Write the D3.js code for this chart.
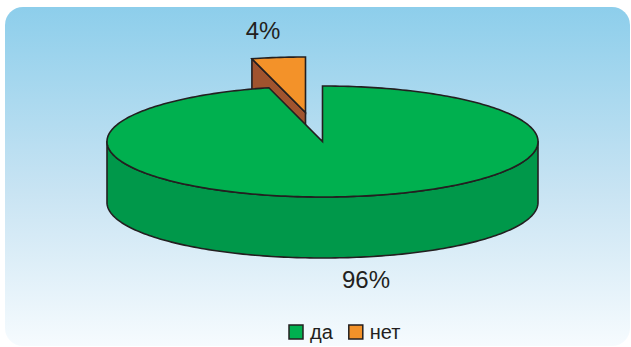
<!DOCTYPE html>
<html><head><meta charset="utf-8">
<script src="https://cdn.jsdelivr.net/npm/d3@7"></script>
<style>html,body{margin:0;padding:0;background:#fff;overflow:hidden}</style>
</head><body>
<svg id="c" width="631" height="347"></svg>
<script>
const categories = ["да", "нет"];
const values = [96, 4];
const labels = ["96%", "4%"];
const topColors = ["#00b04f", "#f39229"];
const sideColors = ["#00984a", "#a0532e"];

const W = 631, H = 347;
const svg = d3.select("#c");
const defs = svg.append("defs");
const grad = defs.append("linearGradient").attr("id","bg").attr("x1",0).attr("y1",0).attr("x2",0).attr("y2",1);
grad.append("stop").attr("offset","0%").attr("stop-color","#8dceeb");
grad.append("stop").attr("offset","55%").attr("stop-color","#c9e4f3");
grad.append("stop").attr("offset","100%").attr("stop-color","#f6fbfe");
svg.append("rect").attr("x",5).attr("y",7).attr("width",625).attr("height",339).attr("rx",18).attr("fill","url(#bg)");

const cx = 322.5, cy = 141.5, rx = 215.5, ry = 55.5, depth = 61;
const explode = [0, 1];
const exOff = {dx: -17, dy: -29};
const stroke = "#231f20", sw = 1.6;

const pie = d3.pie().sort(null).startAngle(0).endAngle(2*Math.PI);
const arcs = pie(values);
// projection of polar angle (clockwise from 12 o'clock) onto the tilted ellipse
const sx = d3.scaleLinear().domain([-1,1]).range([cx-rx, cx+rx]);
const sy = d3.scaleLinear().domain([-1,1]).range([cy-ry, cy+ry]);
const P = (a, ox, oy, dz) => [sx(Math.sin(a)) + ox, sy(-Math.cos(a)) + oy + dz];
const line = d3.line();

function arcPts(a0, a1, ox, oy, dz) {
  const n = Math.max(2, Math.ceil(Math.abs(a1-a0)/0.02));
  return d3.range(n+1).map(i => P(a0 + (a1-a0)*i/n, ox, oy, dz));
}

const gBack = svg.append("g"), gFront = svg.append("g");
// draw exploded slices first (behind), then main
const order = arcs.map((d,i)=>i).sort((a,b)=>explode[b]-explode[a]);
order.forEach(i => {
  const d = arcs[i];
  const ox = explode[i] ? exOff.dx : 0, oy = explode[i] ? exOff.dy : 0;
  const c = [cx+ox, cy+oy];
  const g = svg.append("g");
  // side wall (front visible half: angles between PI/2 and 3PI/2)
  const w0 = Math.max(d.startAngle, Math.PI/2), w1 = Math.min(d.endAngle, 3*Math.PI/2);
  if (w1 > w0) {
    const pts = arcPts(w0, w1, ox, oy, 0).concat(arcPts(w1, w0, ox, oy, depth));
    g.append("path").attr("d", line(pts)+"Z").attr("fill", sideColors[i]).attr("stroke", stroke).attr("stroke-width", sw).attr("stroke-linejoin","round");
  }
  // cut face at startAngle visible if it faces viewer (left half start edges)
  if (explode[i]) {
    const a = d.startAngle;
    const r0 = P(a, ox, oy, 0);
    const pts = [c, r0, [r0[0], r0[1]+depth], [c[0], c[1]+depth]];
    g.append("path").attr("d", line(pts)+"Z").attr("fill", sideColors[i]).attr("stroke", stroke).attr("stroke-width", sw).attr("stroke-linejoin","round");
  }
  // top surface
  const tp = [c].concat(arcPts(d.startAngle, d.endAngle, ox, oy, 0));
  g.append("path").attr("d", line(tp)+"Z").attr("fill", topColors[i]).attr("stroke", stroke).attr("stroke-width", sw).attr("stroke-linejoin","miter");
});

// value labels
const font = "'Liberation Sans', Arial, sans-serif";
const labelPos = [
  [cx + 43.5, cy + ry + depth + 30],
  [cx + exOff.dx - 42.5, cy - ry + exOff.dy - 18]
];
labels.forEach((t,i) => {
  svg.append("text").attr("x", labelPos[i][0]).attr("y", labelPos[i][1]).attr("text-anchor","middle")
    .attr("font-family", font).attr("font-size", 24).attr("fill", "#231f20").text(t);
});

// legend
const leg = svg.append("g").attr("transform", "translate(289,325)");
let lx = 0;
categories.forEach((c,i) => {
  leg.append("rect").attr("x", lx).attr("y", 0).attr("width", 14).attr("height", 14)
    .attr("fill", topColors[i]).attr("stroke", stroke).attr("stroke-width", 1.5);
  const t = leg.append("text").attr("x", lx + 21).attr("y", 13.5).attr("font-family", font)
    .attr("font-size", 20).attr("fill", "#231f20").text(c);
  lx += 21 + t.node().getComputedTextLength() + 16;
});
</script>
</body></html>
